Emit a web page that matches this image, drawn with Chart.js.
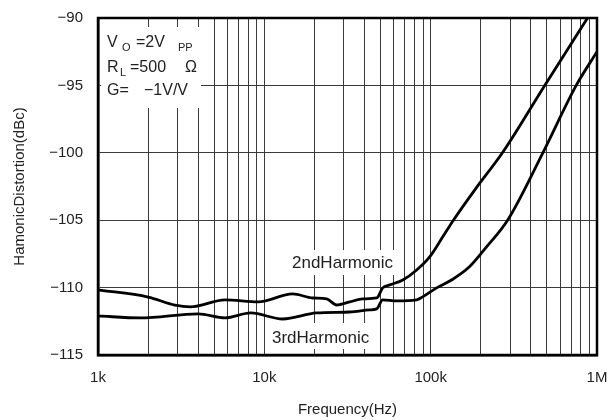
<!DOCTYPE html>
<html lang="en">
<head>
  <meta charset="UTF-8">
  <title>Harmonic Distortion vs Frequency</title>
  <script src="https://cdn.jsdelivr.net/npm/chart.js"></script>
  <style>
    html, body { margin: 0; padding: 0; background: #fff; }
    #wrap { width: 608px; height: 420px; }
  </style>
</head>
<body>
  <div id="wrap"><canvas id="hdChart" width="608" height="420"></canvas></div>
  <script>
    // values
    const freq2nd = [1000, 2000, 2900, 3600, 5800, 9200, 14800, 19500, 23700, 27200, 32600, 39000, 47400,
      51500, 56800, 68000, 82400, 98600, 118000, 137000, 188000, 270000, 485000, 877000];
    const hd2nd = [-110.17, -110.7, -111.3, -111.43, -110.91, -111.06, -110.47, -110.77, -110.84, -111.29, -111.06, -110.84, -110.77,
      -110.02, -109.8, -109.43, -108.69, -107.72, -106.25, -105.0, -102.6, -100.0, -95.0, -90.0];

    const freq3rd = [1000, 1800, 4000, 5800, 8300, 12900, 20600, 32600, 43000, 47400, 51500, 62500, 82400,
      89500, 108600, 135000, 171000, 216000, 290000, 472600, 750000, 1000000];
    const hd3rd = [-112.1, -112.25, -111.95, -112.25, -111.88, -112.33, -111.88, -111.81, -111.66, -111.58, -110.91, -110.99, -110.91,
      -110.69, -110.02, -109.4, -108.46, -107.0, -105.0, -100.0, -95.0, -92.5];

    const xGrid = [1000, 2000, 3000, 4000, 5000, 6000, 7000, 8000, 9000,
      10000, 20000, 30000, 40000, 50000, 60000, 70000, 80000, 90000,
      100000, 200000, 300000, 400000, 500000, 600000, 700000, 800000, 900000, 1000000];
    const xLabels = { 1000: '1k', 10000: '10k', 100000: '100k', 1000000: '1M' };
    const yMin = -115, yMax = -90, yStep = 5;

    const FONT = "'Liberation Sans', Arial, sans-serif";

    // white boxes behind the labels, drawn over the grid
    const labelPlugin = {
      id: 'labelPlugin',
      beforeDatasetsDraw(chart) {
        const c = chart.ctx;
        c.save();
        c.fillStyle = '#fff';
        c.fillRect(101, 27, 100, 81);
        c.fillRect(288, 250, 112, 25);
        c.fillRect(268, 323, 111, 26);

        c.fillStyle = '#222';
        c.textBaseline = 'alphabetic';
        c.font = '16px ' + FONT;
        c.fillText('V', 107, 47);
        c.fillText('=2V', 136, 47);
        c.fillText('R', 107, 72);
        c.fillText('=500', 130, 72);
        c.fillText('\u03A9', 185, 72);
        c.fillText('G=', 107, 95);
        c.fillText('\u22121V/V', 144, 95);
        c.font = '11px ' + FONT;
        c.fillText('O', 122, 51);
        c.fillText('PP', 178, 51);
        c.fillText('L', 120, 76);

        c.font = '17px ' + FONT;
        c.fillText('2ndHarmonic', 292, 268);
        c.fillText('3rdHarmonic', 272, 343);
        c.restore();
      },
      afterDraw(chart) {
        const a = chart.chartArea;
        const c = chart.ctx;
        c.save();
        c.strokeStyle = '#000';
        c.lineWidth = 2.5;
        c.strokeRect(a.left, a.top, a.right - a.left, a.bottom - a.top);
        c.restore();
      }
    };

    const lineStyle = {
      borderColor: '#000',
      borderWidth: 2.8,
      pointRadius: 0,
      fill: false,
      cubicInterpolationMode: 'monotone'
    };

    new Chart(document.getElementById('hdChart'), {
      type: 'line',
      data: {
        datasets: [
          Object.assign({ label: '2nd Harmonic', data: freq2nd.map((f, i) => ({ x: f, y: hd2nd[i] })) }, lineStyle),
          Object.assign({ label: '3rd Harmonic', data: freq3rd.map((f, i) => ({ x: f, y: hd3rd[i] })) }, lineStyle)
        ]
      },
      options: {
        responsive: false,
        animation: false,
        layout: { padding: { top: 18, right: 11, left: 0, bottom: 0 } },
        plugins: { legend: { display: false }, tooltip: { enabled: false } },
        scales: {
          x: {
            type: 'logarithmic',
            min: 1000,
            max: 1000000,
            afterBuildTicks: (scale) => { scale.ticks = xGrid.map(v => ({ value: v })); },
            afterFit: (scale) => { scale.height = 65; scale.paddingLeft = 0; scale.paddingRight = 0; },
            ticks: {
              autoSkip: false,
              maxRotation: 0,
              padding: 14,
              color: '#222',
              font: { family: FONT, size: 15 },
              callback: (v) => xLabels[v] || ''
            },
            grid: { color: '#3a3a3a', lineWidth: 1, drawTicks: false },
            border: { color: '#000', width: 2.5 },
            title: {
              display: true,
              text: 'Frequency(Hz)',
              color: '#222',
              font: { family: FONT, size: 15 },
              padding: { top: 0, bottom: 1 }
            }
          },
          y: {
            min: yMin,
            max: yMax,
            afterFit: (scale) => { scale.width = 98; scale.paddingTop = 0; scale.paddingBottom = 0; },
            ticks: {
              stepSize: yStep,
              padding: 15,
              color: '#222',
              font: { family: FONT, size: 15 },
              callback: (v) => String(v).replace('-', '\u2212')
            },
            grid: { color: '#3a3a3a', lineWidth: 1, drawTicks: false },
            border: { color: '#000', width: 2.5 },
            title: {
              display: true,
              text: 'HamonicDistortion(dBc)',
              color: '#222',
              font: { family: FONT, size: 15 },
              padding: { top: 11, bottom: 0 }
            }
          }
        }
      },
      plugins: [labelPlugin]
    });
  </script>
</body>
</html>
